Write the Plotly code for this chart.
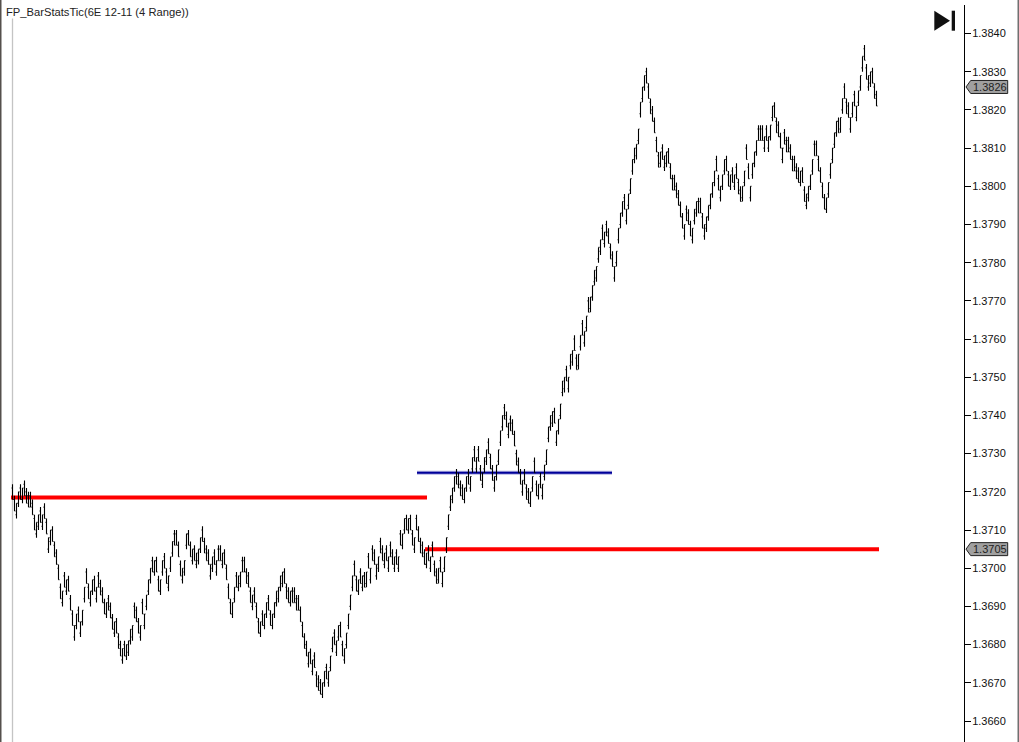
import plotly.graph_objects as go

# Bar highs, as pips above 1.0000 (1.3722 -> 3722). Each bar spans 4 pips.
highs_left = [
 3722,3719,3717,3720,3722,3721,3723,3721,3720,3720,3718,3714,3712,3714,3716,3714,3717,3713,3708,3710,
 3711,3707,3705,3701,3696,3694,3699,3697,3698,3693,3689,3685,3688,3690,3686,3689,3695,3700,3696,3694,
 3697,3698,3695,3699,3697,3695,3692,3691,3693,3691,3688,3686,3687,3683,3681,3679,3681,3680,3681,3684,
 3685,3691,3690,3687,3685,3692,3688,3693,3697,3700,3703,3702,3703,3698,3697,3702,3704,3700,3698,3703,
 3707,3710,3710,3707,3702,3700,3702,3709,3710,3707,3705,3706,3704,3705,3708,3711,3708,3706,3705,3701,
 3703,3705,3702,3706,3706,3704,3705,3701,3696,3692,
]
highs_trough = [
 3691,3695,3699,3698,3699,3703,3703,3700,3699,3695,3693,3695,3691,3687,3686,3689,3688,3691,3693,3689,
 3688,3691,3694,3695,3698,3699,3700,3696,3695,3694,3695,3695,3693,3693,3690,3686,3683,3681,3678,3679,
 3676,3678,3673,3672,3671,3670,3673,3675,3673,3677,3682,3684,3681,3685,3686,3681,3679,3683,3688,3693,
 3698,3702,3698,3697,3700,3698,3699,3699,3704,3700,3706,3705,3701,3703,3708,3706,3704,3706,3703,3707,
 3705,3703,3705,3703,3710,3709,3713,3714,3713,3714,3710,3708,3714,3711,3708,3707,3705,3704,3706,3703,
 3707,3702,3700,3700,3703,3699,3703,3708,3714,3719,3721,3724,3726,3725,3723,
]
highs_rally = [
 3722,3721,3724,3726,3724,3729,3732,3729,3732,3727,3725,3729,3731,3734,3730,3727,3724,3727,3731,3736,
 3740,3743,3741,3738,3740,3739,3736,3731,3729,3726,3723,3726,3722,3721,3720,3724,3729,3723,3722,3725,
 3722,3727,3731,3737,3740,3741,3742,3736,3739,3743,3749,3750,3753,3750,3756,3757,3761,3756,3756,3761,
 3765,3762,3766,3771,3771,3774,3778,3779,3784,3786,3790,3788,3791,3789,3785,3783,3779,3783,3789,
]
highs_right = [
 3793,3796,3798,3794,3798,3802,3807,3810,3811,3815,3822,3826,3829,3831,3827,3823,3821,3818,3813,3809,
 3809,3811,3808,3809,3810,3806,3803,3803,3801,3799,3796,3793,3790,3795,3794,3791,3789,3794,3796,3797,
 3797,3793,3790,3792,3795,3798,3801,3804,3808,3803,3800,3803,3807,3808,3804,3803,3805,3803,3806,3802,
 3800,3800,3804,3811,3806,3800,3806,3809,3812,3816,3816,3816,3813,3816,3813,3816,3821,3822,3818,3817,
 3814,3810,3815,3813,3813,3811,3808,3808,3806,3805,3804,3805,3800,3798,3800,3803,3807,3812,3812,3808,
 3805,3801,3798,3797,3801,3806,3810,3814,3817,3818,3818,3823,3827,3823,3822,3818,3822,3825,3821,3825,
 3829,3834,3837,3832,3829,3830,3831,3827,3825,
]

bar_range_pips = 4
axis_ticks = [1.3660,1.3670,1.3680,1.3690,1.3700,1.3710,1.3720,1.3730,1.3740,1.3750,1.3760,1.3770,1.3780,1.3790,1.3800,1.3810,1.3820,1.3830,1.3840]
tick_labels = ["%.4f" % t for t in axis_ticks]
flag_prices = [1.3826, 1.3705]
red_levels = [1.37185, 1.3705]
blue_level = 1.3725
title_text = "FP_BarStatsTic(6E 12-11 (4 Range))"

W, H = 1019, 742
AXIS_PX = 963.8
PX_PER_BAR = 2.0
FIRST_BAR_PX = 12.5

def px2bar(px):
    return (px - FIRST_BAR_PX) / PX_PER_BAR

def fx(px):
    return px / W

def fy(py):
    return 1 - py / H

pip = 0.0001
highs = [1 + v * pip for v in highs_left + highs_trough + highs_rally + highs_right]
lows = [h - bar_range_pips * pip for h in highs]
closes, opens = [], []
for i, h in enumerate(highs):
    nxt = highs[i + 1] if i + 1 < len(highs) else h - pip
    closes.append(h if nxt > h else lows[i])
    opens.append(lows[i] + pip if nxt > h else h - pip)

fig = go.Figure()
fig.add_trace(go.Ohlc(
    x=list(range(len(highs))), open=opens, high=highs, low=lows, close=closes,
    increasing=dict(line=dict(color="#000000", width=1.1)),
    decreasing=dict(line=dict(color="#000000", width=1.1)),
    tickwidth=0.5, showlegend=False, hoverinfo="skip", name="6E 12-11 (4 Range)",
))

PX_PER_UNIT = (721 - 33.5) / 0.018
y_top_px = 5
range_top = 1.3840 + (33.5 - y_top_px) / PX_PER_UNIT
range_bot = 1.3660 - (H - 721) / PX_PER_UNIT

def level_line(px0, px1, price, color, width):
    return dict(type="line", xref="x", yref="y", x0=px2bar(px0), x1=px2bar(px1), y0=price, y1=price,
                line=dict(color=color, width=width), layer="below")

shapes = [
    dict(type="line", xref="paper", yref="paper", x0=fx(12.5), x1=fx(12.5), y0=fy(17), y1=0,
         line=dict(color="#c4c4c4", width=1.3), layer="below"),
    level_line(11, 427, red_levels[0], "#ff0000", 4),
    level_line(425, 879, red_levels[1], "#ff0000", 4),
    level_line(417, 612, blue_level, "rgba(0,0,154,0.3)", 4),
    level_line(417, 612, blue_level, "#00009a", 2),
    dict(type="rect", xref="paper", yref="paper", x0=0, x1=fx(1.5), y0=0, y1=1,
         fillcolor="#55504c", line=dict(width=0)),
    dict(type="rect", xref="paper", yref="paper", x0=fx(1017.5), x1=1, y0=0, y1=1,
         fillcolor="#707070", line=dict(width=0)),
    dict(type="path", xref="paper", yref="paper",
         path=f"M {fx(934.3)} {fy(10.7)} L {fx(950)} {fy(20.7)} L {fx(934.3)} {fy(30.7)} Z",
         fillcolor="#111111", line=dict(width=0)),
    dict(type="rect", xref="paper", yref="paper", x0=fx(951.7), x1=fx(955), y0=fy(30.7), y1=fy(10.7),
         fillcolor="#111111", line=dict(width=0)),
]
annotations = [
    dict(xref="paper", yref="paper", x=fx(5), y=fy(12), text=title_text, showarrow=False,
         xanchor="left", yanchor="middle", font=dict(family="Liberation Sans", size=11.2, color="#222222"),
         bgcolor="#ffffff", borderpad=0),
]
half = 6.5 / PX_PER_UNIT
for p in flag_prices:
    shapes.append(dict(type="path", xref="paper", yref="y",
                       path=f"M {fx(966)} {p} L {fx(970.7)} {p + half} L {fx(1007.7)} {p + half} "
                            f"L {fx(1007.7)} {p - half} L {fx(970.7)} {p - half} Z",
                       fillcolor="#a0a0a0", line=dict(color="#222222", width=1)))
    annotations.append(dict(xref="paper", yref="y", x=fx(989.5), y=p, text="%.4f" % p, showarrow=False,
                            xanchor="center", yanchor="middle",
                            font=dict(family="Liberation Sans", size=11, color="#222222")))

fig.update_layout(
    width=W, height=H, margin=dict(l=0, r=0, t=0, b=0, pad=0),
    paper_bgcolor="#ffffff", plot_bgcolor="#ffffff", showlegend=False,
    shapes=shapes, annotations=annotations,
    font=dict(family="Liberation Sans", size=11, color="#111111"),
    xaxis=dict(domain=[0, AXIS_PX / W], range=[px2bar(0), px2bar(AXIS_PX)], visible=False,
               rangeslider=dict(visible=False), showgrid=False, zeroline=False),
    yaxis=dict(domain=[0, 1 - y_top_px / H], range=[range_bot, range_top], side="right",
               tickmode="array", tickvals=axis_ticks, ticktext=tick_labels,
               ticks="outside", ticklen=6, tickwidth=1, tickcolor="#000000",
               showline=True, linecolor="#000000", linewidth=1.3, ticklabelstandoff=-1,
               showgrid=False, zeroline=False, automargin=False,
               tickfont=dict(family="Liberation Sans", size=11, color="#111111")),
)
fig.write_html("out.html", config=dict(displayModeBar=False),
               post_script="document.body.style.margin='0';")
